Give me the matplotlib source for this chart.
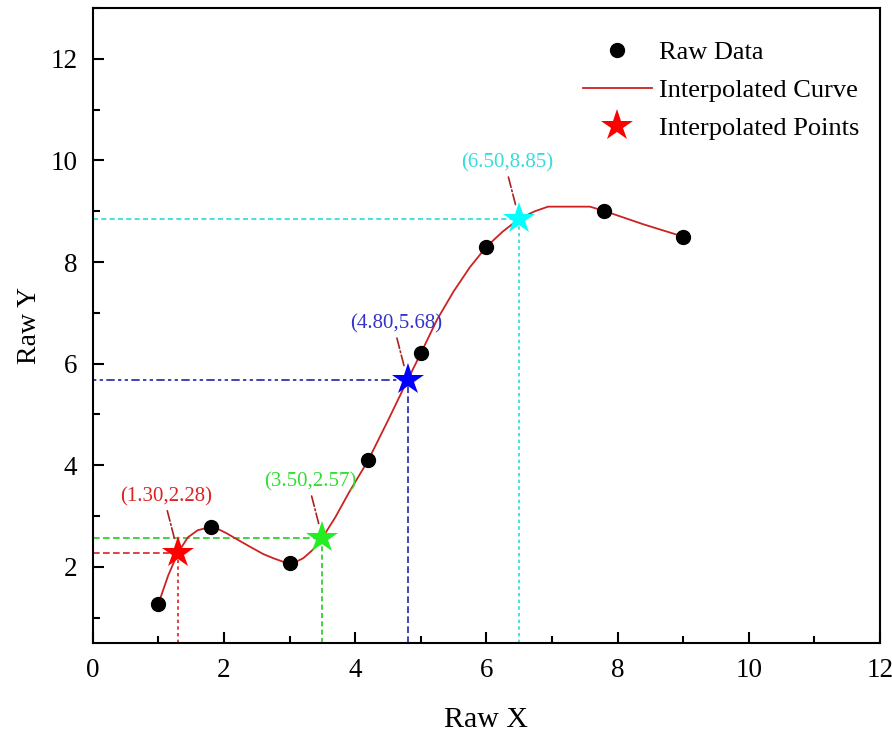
import numpy as np
import matplotlib.pyplot as plt
from matplotlib.ticker import MultipleLocator

# raw data points
raw_x = [1.0, 1.8, 3.0, 4.2, 5.0, 6.0, 7.8, 9.0]
raw_y = [1.27, 2.78, 2.08, 4.10, 6.20, 8.30, 9.00, 8.50]

# interpolated curve
curve_x = [1.0, 1.15, 1.3, 1.45, 1.6, 1.78, 1.9, 2.04, 2.2, 2.39, 2.6, 2.75,
           2.9, 3.0, 3.1, 3.21, 3.35, 3.5, 3.7, 3.9, 4.2, 4.5, 4.8, 5.0,
           5.25, 5.5, 5.75, 6.0, 6.25, 6.5, 6.74, 6.94, 7.58, 7.81, 8.4, 9.0]
curve_y = [1.27, 1.83, 2.28, 2.58, 2.72, 2.78, 2.75, 2.66, 2.54, 2.40, 2.25, 2.17,
           2.10, 2.08, 2.10, 2.17, 2.33, 2.57, 2.98, 3.45, 4.10, 4.88, 5.68, 6.20,
           6.87, 7.42, 7.90, 8.30, 8.60, 8.85, 9.00, 9.09, 9.09, 9.00, 8.74, 8.50]

# interpolated points
pt_x = [1.30, 3.50, 4.80, 6.50]
pt_y = [2.28, 2.57, 5.68, 8.85]
pt_colors = ['#ff0000', '#22ee22', '#0000ff', '#00ffff']
label_colors = ['#dd2222', '#33dd33', '#3333cc', '#33dddd']
guide_colors = ['#dd2222', '#22cc22', '#2222aa', '#22dddd']
guide_h = [(0, (4, 2)), (0, (4, 2)), (0, (2, 2, 2, 2, 5, 2)), (0, (3, 2))]
guide_v = [(0, (2, 2)), (0, (3, 2)), (0, (4, 2)), (0, (2, 2))]

plt.rcParams['font.family'] = 'Liberation Serif'

fig = plt.figure(figsize=(8.92, 7.32), dpi=100)
ax = fig.add_axes([0.104, 0.1216, 0.8825, 0.8674])

x0, y0 = 0, 0.5
for i in range(len(pt_x)):
    ax.plot([x0, pt_x[i]], [pt_y[i], pt_y[i]], color=guide_colors[i],
            linestyle=guide_h[i], linewidth=1.2, zorder=1)
    ax.plot([pt_x[i], pt_x[i]], [y0, pt_y[i]], color=guide_colors[i],
            linestyle=guide_v[i], linewidth=1.2, zorder=1)

ax.plot(curve_x, curve_y, color='#cc2222', linewidth=1.3, zorder=2,
        label='Interpolated Curve')
ax.plot(raw_x, raw_y, 'o', color='black', markersize=10, zorder=3,
        label='Raw Data')
for i in range(len(pt_x)):
    ax.plot(pt_x[i], pt_y[i], '*', color=pt_colors[i], markersize=24,
            markeredgewidth=0, zorder=4)
    ax.annotate('(%.2f,%.2f)' % (pt_x[i], pt_y[i]), xy=(pt_x[i], pt_y[i]),
                xytext=(-8.5, 40), textcoords='offset points',
                ha='center', va='center', fontsize=15, color=label_colors[i],
                arrowprops=dict(arrowstyle='-', color='#aa2222', linestyle='-.',
                                linewidth=1.2, shrinkA=1, shrinkB=10,
                                relpos=(0.5, 0)))

# legend proxy for the stars
ax.plot([], [], '*', color='#ff0000', markersize=24, markeredgewidth=0,
        label='Interpolated Points')
handles, labels = ax.get_legend_handles_labels()
order = [1, 0, 2]
ax.legend([handles[k] for k in order], [labels[k] for k in order],
          loc='upper right', bbox_to_anchor=(1.008, 0.99), frameon=False,
          fontsize=19, handlelength=2.6, handletextpad=0.3,
          labelspacing=0.55, borderaxespad=0.6)

ax.set_xlim(0, 12)
ax.set_ylim(0.5, 13)
ax.xaxis.set_major_locator(MultipleLocator(2))
ax.xaxis.set_minor_locator(MultipleLocator(1))
ax.yaxis.set_major_locator(MultipleLocator(2))
ax.yaxis.set_minor_locator(MultipleLocator(1))
ax.set_yticks([2, 4, 6, 8, 10, 12])
ax.tick_params(which='both', direction='in', top=False, right=False,
               width=1.5, labelsize=19.5)
ax.tick_params(which='major', length=8, pad=11)
ax.tick_params(which='minor', length=5)
for s in ax.spines.values():
    s.set_linewidth(1.5)

ax.set_xlabel('Raw X', fontsize=21.5, labelpad=17)
ax.set_ylabel('Raw Y', fontsize=20, labelpad=6)

fig.savefig('out.png', dpi=100)
